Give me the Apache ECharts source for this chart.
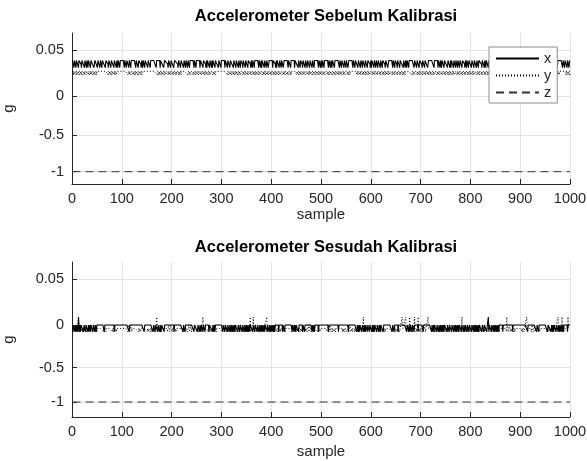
<!DOCTYPE html>
<html>
<head>
<meta charset="utf-8">
<script src="https://cdn.jsdelivr.net/npm/echarts@6/dist/echarts.min.js"></script>
<style>
  html, body { margin: 0; padding: 0; background: #fff; }
  #chart { width: 587px; height: 461px; }
</style>
</head>
<body>
<div id="chart"></div>
<script>
// sample axis
const sampleTicks = [0, 100, 200, 300, 400, 500, 600, 700, 800, 900, 1000];

// y ticks (g)
const yTickValues = [-1, -0.5, 0, 0.05];
const yTickLabels = ['-1', '-0.5', '0', '0.05'];

// each char in the rows is an index into these levels
const xTopLevels = [0.0313, 0.0352, 0.0391];
const yTopLevels = [0.0234, 0.0273];
const xBotLevels = [-0.08, -0.04, 0, 0.0044, 0.0088];
const yBotLevels = [-0.08, -0.04, 0, 0.0044, 0.0088];

// read per sample, 100 samples per row
const xTopRows = [
  '2220222022 2202222102 2222022202 2022220222 2220022222 0222202220 2222220222 2102222022 2220222202 2022202222',
  '2222022202 2220222022 2222222022 2202222102 2022202222 2022220222 2222222202 2222220222 2220022222 2102222022',
  '2220022222 2102222022 2220222022 2022202222 2222022202 2222220222 2202222102 0222202220 2022220222 2220222202',
  '2222220222 2022220222 2220222202 2220222022 2102222022 2202222102 2022202222 2222022202 0222202220 2220022222',
  '2202222102 0222202220 2220022222 2220222202 2222220222 2220222022 2102222022 2022220222 2022202222 2222022202',
  '2022202222 2222022202 2022220222 2222220222 0222202220 2220022222 2220222022 2220222202 2102222022 2202222102',
  '0222202220 2220222202 2202222102 2220022222 2220222022 2102222022 2222022202 2022202222 2222220222 2022220222',
  '2102222022 2220022222 2222220222 2222022202 2022220222 2220222202 0222202220 2220222022 2202222102 2022202222',
  '2022220222 2022202222 2102222022 0222202220 2202222102 2222022202 2220022222 2222220222 2220222022 2220222202',
  '2220222202 2222220222 2022202222 2102222022 2220222202 0222202220 2022220222 2220022222 2222022202 2220222022'
];
const yTopRows = [
  '1010011010 0110100101 1001011001 1101001011 0110100101 1111111111 1111111111 1010011010 0110100101 1111111111',
  '1111111111 1001011001 1101001011 1010011010 1111111111 1111111111 1111111111 0110100101 1001011001 1101001011',
  '1010011010 0110100101 1111111111 1001011001 1101001011 1010011010 0110100101 1001011001 1101001011 1111111111',
  '1111111111 1010011010 0110100101 1001011001 1101001011 1010011010 0110100101 1001011001 1101001011 1010011010',
  '0110100101 1001011001 1101001011 1010011010 1111111111 0110100101 1001011001 1101001011 1010011010 0110100101',
  '1001011001 1101001011 1010011010 0110100101 1001011001 1101001011 1111111111 1010011010 0110100101 1001011001',
  '1101001011 1010011010 0110100101 1001011001 1101001011 1010011010 0110100101 1111111111 1001011001 1101001011',
  '1010011010 0110100101 1001011001 1101001011 1010011010 0110100101 1001011001 1101001011 1010011010 0110100101',
  '1001011001 1101001011 1010011010 0110100101 1001011001 1101001011 1010011010 0110100101 1001011001 1101001011',
  '1010011010 0110100101 1001011001 1101001011 1010011010 0110100101 1001011001 1101001011 1111111111 1010011010'
];
const xBotRows = [
  '2022202202 2042020222 2202220222 2022020222 2022202202 2222222222 2222022222 2222222222 2222022222 2222222222',
  '2222222222 2222022222 2222222222 2222222222 2222022222 2222222222 2202220222 2022202202 2222022222 2222222222',
  '2222022222 2222222222 2202220222 2222222222 2222022222 2022202202 2202220222 2222022222 2022020222 2222222222',
  '2202220222 2022202202 2022020222 2202220222 2022202202 2022020222 2202220222 2022202202 2022020222 2022202202',
  '2022020222 2222022222 2202220222 2222222222 2022202202 2222022222 2202220222 2222222222 2022020222 2222022222',
  '2222222222 2222022222 2222222222 2222022222 2222222222 2222022222 2222222222 2022020222 2022202202 2202220222',
  '2022020222 2022202202 2222022222 2222222222 2202220222 2222022222 2222222222 2022202202 2202220222 2222022222',
  '2222022222 2222222222 2022020222 2022202202 2022020222 2202220222 2022202202 2022020222 2022202202 2202220222',
  '2022202202 2022020222 2202220222 2202240222 2022202202 2022020222 2222022222 2222222222 2222022222 2222222222',
  '2222222222 2222022222 2222222222 2202220222 2222222222 2222022222 2022020222 2022202202 2022020222 2222022222'
];
const yBotRows = [
  '1012101210 1141011011 0101110101 1111111111 1012101210 1111111111 1101011011 1111111111 0101110101 1111111111',
  '1111111111 1012101210 1111111111 1101011011 1111111111 0101110101 1012101214 1101011011 1111111111 1012101210',
  '0101110101 1111111111 1101011011 1012101210 1111111111 0101110101 1141111111 1101011011 1012101210 1111111111',
  '1012101210 1101011011 0101110101 1012101210 1101011011 0101110401 1014101210 1101011011 1111111111 4101011011',
  '1012101210 0101110101 1101011011 1111111111 1012101210 1101011011 0101110101 1012101210 1111111111 1101011011',
  '1111111111 1012101210 0101110101 1111111111 1101011011 1012101210 0101110101 1101011011 1012401210 1111111111',
  '1101011011 1012101210 0101110101 1111111111 1012101210 1101011011 1141111114 1012101410 1101011411 0101410101',
  '1012101210 1111411111 1101011011 0101110101 1012101210 1101011011 1111111111 1012101210 0141110101 1101011011',
  '1012101210 1101011011 0101110101 1111111111 1012101210 1101011011 1111111111 1042101210 0101110101 1111111111',
  '1101011011 1141111111 1012101210 0101110101 1111111111 1101011011 1012101210 1111141111 1104011011 1111141111'
];

// z sits flat at -1 g in both runs
const zSamples = [1, 1000];
const zTop = [-1, -1];
const zBot = [-1, -1];

function decode(rows, levels) {
  return rows.join('').replace(/\s/g, '').split('').map(function (c) { return levels[+c]; });
}

// the g axis in the picture is not linear, so values go through its tick positions
// (pixel heights above the plot bottom)
const topPos = [12.3, 49, 87.6, 133.6], topH = 151;
const botPos = [15, 49.3, 92, 137.7], botH = 155;

function makeMap(pos) {
  return function (v) {
    let i = 0;
    while (i < yTickValues.length - 2 && v > yTickValues[i + 1]) i++;
    const t = (v - yTickValues[i]) / (yTickValues[i + 1] - yTickValues[i]);
    return pos[i] + t * (pos[i + 1] - pos[i]);
  };
}
const mapTop = makeMap(topPos);
const mapBot = makeMap(botPos);

function toPoints(values, map) {
  return values.map(function (v, i) { return [i + 1, map(v)]; });
}
function zPoints(values, map) {
  return values.map(function (v, i) { return [zSamples[i], map(v)]; });
}

const FONT = "'Liberation Sans', Arial, sans-serif";
const TXT = '#262626';
const GRIDC = '#e3e3e3';

function xAxisFor(idx, gap) {
  return {
    type: 'value', gridIndex: idx, min: 0, max: 1000, interval: 100,
    name: 'sample', nameLocation: 'middle', nameGap: gap,
    nameTextStyle: { fontSize: 15, color: TXT, fontFamily: FONT },
    axisLine: { show: true, lineStyle: { color: TXT, width: 1 } },
    axisTick: { show: true, inside: true, length: 5, lineStyle: { color: TXT } },
    axisLabel: {
      fontSize: 14.5, color: TXT, fontFamily: FONT, margin: 7,
      formatter: function (v) { return String(sampleTicks[Math.round(v / 100)]); }
    },
    splitLine: { show: true, lineStyle: { color: GRIDC, width: 1 } }
  };
}
function yAxisFor(idx, pos, h) {
  return {
    type: 'value', gridIndex: idx, min: 0, max: h,
    name: 'g', nameLocation: 'middle', nameGap: 56, nameRotate: 90,
    nameTextStyle: { fontSize: 15, color: TXT, fontFamily: FONT },
    axisLine: { show: true, lineStyle: { color: TXT, width: 1 } },
    axisTick: { show: true, inside: true, length: 5, customValues: pos, lineStyle: { color: TXT } },
    axisLabel: {
      customValues: pos, fontSize: 14.5, color: TXT, fontFamily: FONT, margin: 8,
      formatter: function (val) {
        let best = 0;
        for (let i = 1; i < pos.length; i++) {
          if (Math.abs(pos[i] - val) < Math.abs(pos[best] - val)) best = i;
        }
        return yTickLabels[best];
      }
    },
    splitLine: { show: true, lineStyle: { color: GRIDC, width: 1 } }
  };
}

function lineSeries(name, idx, data, lineStyle) {
  return {
    name: name, type: 'line', xAxisIndex: idx, yAxisIndex: idx,
    data: data, symbol: 'none', showSymbol: false, silent: true,
    lineStyle: lineStyle, itemStyle: { color: lineStyle.color }
  };
}

const chart = echarts.init(document.getElementById('chart'));
chart.setOption({
  animation: false,
  backgroundColor: '#fff',
  title: [
    { text: 'Accelerometer Sebelum Kalibrasi', left: 321, top: 3, textAlign: 'center',
      textStyle: { fontSize: 16.5, fontWeight: 'bold', color: '#000', fontFamily: FONT } },
    { text: 'Accelerometer Sesudah Kalibrasi', left: 321, top: 234, textAlign: 'center',
      textStyle: { fontSize: 16.5, fontWeight: 'bold', color: '#000', fontFamily: FONT } }
  ],
  legend: {
    data: ['x', 'y', 'z'], orient: 'vertical', left: 489, top: 47,
    itemWidth: 43, itemHeight: 15, itemGap: 2, padding: [4, 6, 3, 6],
    backgroundColor: '#fff', borderColor: '#8c8c8c', borderWidth: 1,
    itemStyle: { color: 'rgba(0,0,0,0)', borderColor: 'rgba(0,0,0,0)', borderWidth: 0, opacity: 0 },
    textStyle: { fontSize: 14.5, color: TXT, fontFamily: FONT },
    selectedMode: false
  },
  grid: [
    { left: 72, top: 33, width: 498, height: topH, containLabel: false, outerBoundsMode: 'none' },
    { left: 72, top: 262, width: 498, height: botH, containLabel: false, outerBoundsMode: 'none' }
  ],
  xAxis: [xAxisFor(0, 21), xAxisFor(1, 27)],
  yAxis: [yAxisFor(0, topPos, topH), yAxisFor(1, botPos, botH)],
  series: [
    lineSeries('x', 0, toPoints(decode(xTopRows, xTopLevels), mapTop), { color: '#000', width: 1.1, type: 'solid' }),
    lineSeries('y', 0, toPoints(decode(yTopRows, yTopLevels), mapTop), { color: '#000', width: 1, type: [1, 2] }),
    lineSeries('z', 0, zPoints(zTop, mapTop), { color: '#333', width: 1, type: [8, 5] }),
    lineSeries('x', 1, toPoints(decode(xBotRows, xBotLevels), mapBot), { color: '#000', width: 1.1, type: 'solid' }),
    lineSeries('y', 1, toPoints(decode(yBotRows, yBotLevels), mapBot), { color: '#000', width: 1, type: [1, 2] }),
    lineSeries('z', 1, zPoints(zBot, mapBot), { color: '#333', width: 1, type: [8, 5] })
  ]
});
</script>
</body>
</html>
